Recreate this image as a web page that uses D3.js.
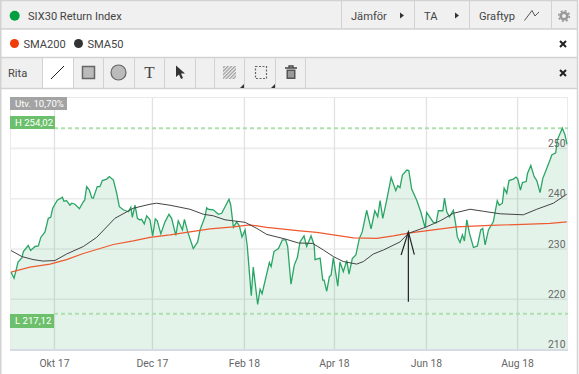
<!DOCTYPE html>
<html>
<head>
<meta charset="utf-8">
<title>SIX30 Return Index</title>
<script src="https://cdn.jsdelivr.net/npm/d3@7"></script>
<style>
  html, body { margin: 0; padding: 0; background: #fff; }
  svg { display: block; font-family: Roboto, sans-serif; }
  .lbl { font-size: 11.1px; fill: #444; }
  .tick-lbl { font-size: 10.4px; fill: #666; }
  .badge-text { font-size: 9.6px; fill: #fff; }
</style>
</head>
<body>
<svg id="chart" width="579" height="374"></svg>
<script>
/* ---------- data ---------- */
// x values are trading days counted from the first point of the window
const closeDays = [0,1.4,3.2,4.9,5.6,7.8,8.9,10.9,12.4,13.5,15.4,16.9,18,18.9,21,23.3,24,25.2,26.7,27.5,29,31,32.8,33.4,34.3,35.5,36.6,37.3,39.1,40.3,41.4,43.4,44.6,46.4,47.9,49.1,50.9,53.2,54.3,55,56.2,57.3,58.2,59.2,60.4,61.5,63,64.2,65.4,66.3,67.9,69.8,71.6,72.8,74.7,75.8,77.7,78.6,80.1,82.6,84.6,85.7,87.9,88.7,89.4,91.7,94,95.5,98.8,99.6,100.8,102.3,103.5,104.7,106.1,107.1,108.9,109.8,111.8,112.9,113.8,117.1,117.9,119.2,121.2,123,124.5,125.4,126.9,128.4,129.8,131,132.8,134,136,137.4,137.8,140.1,141.3,141.9,143.1,144.3,145.1,146.1,148.1,149.1,150.6,152.2,153.2,154.7,156.3,157.9,159.2,161.2,163.2,164.9,166.2,167.3,168.5,170,172.3,174.4,175.3,176.3,177.4,179.4,180.3,181.6,183.9,185.7,187.7,188.4,191.4,192.7,193.7,195.7,196.5,197.5,198.7,200.5,201.6,202.3,203.5,204.6,205.5,206.6,207.8,209.6,211.4,212.9,213.8,214.9,216.4,218.6,220.4,221.3,222.7,223.5,224.7,225.7,227.7,228.9,229.7,230.9,231.8,233.5,234.1,235.6,237.1,238.3,239.8,241,244.3,245.1,246.9,247.6,249.9,251.1,252];
const closeValues = [225.4,224.2,227.4,228.2,229.5,230.7,229.7,230.5,230.6,232.3,233.4,236.1,236.3,238.1,239.7,240.3,239.5,239.6,238.7,239.1,238.9,238,239.4,239.7,242.4,241.7,240.2,240.1,242.4,242.4,243.6,243.9,244.4,243.7,241.1,238.4,237.8,237.4,238.3,236.3,238.7,236.1,235.8,235.9,235,236.6,235.8,232.6,236,235.6,233,235.4,236.9,236.1,232.7,235.6,233.8,235.9,233.4,230.1,231.4,233.8,236.4,238.2,237.9,237.8,236.9,237.1,239.9,238.7,234.3,235.4,234.6,232.4,233.8,230.5,220.7,226.4,219,222,221.1,227.3,226.5,229.5,230.1,231.8,231.8,230.5,223,226.8,228.3,231.4,232.6,230.5,232.6,230.8,227.9,228.2,223.8,223.8,221.6,224.5,224.8,228.3,222.6,227.4,225.5,227.7,225,228.1,228.8,232.1,233.4,237.7,234,237.6,236.4,239.6,236.1,239.1,244.2,241.6,242.6,242.2,244.7,245.7,245.6,241.9,239.7,237.4,234.2,237.3,235.3,235.2,237.6,237.6,240.1,237.4,236.4,237.7,234.8,232.4,231.3,232.8,231.6,235.8,233.1,230.3,230.6,233.8,234.1,230.8,233.8,235.4,239.6,238.7,239.1,242.1,241.1,243.6,243.9,244.3,243.9,241.7,243.2,243.4,245,246.6,244.4,243.6,241.2,244,247.7,248.7,249.1,251.7,254,252.7,250.8];

const sma50Days = [0,4.9,10,14.5,19.9,25.2,32.8,38.8,47.1,55.4,63,66,72.1,81.1,87.2,91.7,97,100.8,106.1,111.4,115.9,124.2,130.2,136.8,141.6,146.1,150.6,156.7,159.7,164.2,168.8,176.3,180.1,187.7,191.4,194.5,200.5,208.1,214.1,221.7,232.2,238.3,245.8,251.9];
const sma50Values = [229.7,228.5,227.9,227.6,227.7,229,230.5,232.3,236.1,238.1,238.9,239.1,238.7,237.9,236.9,236.6,235.8,235.6,235.3,234.1,232.9,232,231.2,231.1,229.8,228.5,227.5,227,227.5,229,229.8,231.4,233.1,234.3,235,235.6,237.1,237.9,237.5,237,236.8,237.9,239.1,240.9];

const sma200Days = [0,8.6,17.7,25.2,32.8,46.4,55.4,63,72.1,81.1,90.2,100.8,108.3,115.9,131,138.6,146.1,155.2,165.8,173.3,180.9,191.4,202,217.1,232.2,244.3,251.9];
const sma200Values = [225.4,226.4,227,227.9,229.1,230.9,231.6,232.3,232.8,233.4,234,234.4,234.8,234.3,233.6,233.3,232.8,232.2,232.1,232.6,233.2,233.8,234.4,234.7,234.9,235.1,235.4];

const xTickDays = [19.7,64.1,105.8,146.6,188.3,229.6];
const xTickLabels = ["Okt 17","Dec 17","Feb 18","Apr 18","Jun 18","Aug 18"];
const yTicks = [250,240,230,220,210];
const yGrid = [250,240,230,220];

const highValue = 254.02, lowValue = 217.12;
const highLabel = "H 254,02", lowLabel = "L 217,12", utvLabel = "Utv. 10,70%";

// the hand drawn arrow: shaft then the two barbs, [day, value]
const arrowShaft = [[180.1,219.5],[180.1,233.4]];
const arrowBarbs = [[176.8,228.8],[180.1,233.4],[182.8,228.9]];

/* ---------- scales ---------- */
const svg = d3.select("#chart");
const xScale = d3.scaleLinear().domain([0, 252]).range([11, 567]);
const yScale = d3.scaleLinear().domain([250, 210]).range([148.4, 349.6]);

const closeData = closeDays.map((d, i) => [d, closeValues[i]]);
const sma50Data = sma50Days.map((d, i) => [d, sma50Values[i]]);
const sma200Data = sma200Days.map((d, i) => [d, sma200Values[i]]);

const lineGen = d3.line().x(d => xScale(d[0])).y(d => yScale(d[1]));
const areaGen = d3.area().x(d => xScale(d[0])).y1(d => yScale(d[1])).y0(350);

/* ---------- page chrome ---------- */
const chrome = svg.append("g");
const rows = [[0, 29, "#f0f0f0"], [58, 30, "#f0f0f0"]];
chrome.selectAll(".row").data(rows).join("rect").attr("class", "row")
  .attr("x", 0).attr("y", d => d[0]).attr("width", 578).attr("height", d => d[1]).attr("fill", d => d[2]);
chrome.append("rect").attr("x", 43).attr("y", 58).attr("width", 30).attr("height", 30).attr("fill", "#fff");

const hLines = [0.5, 29, 57.5, 88.5];
chrome.selectAll(".hl").data(hLines).join("line").attr("class", "hl")
  .attr("x1", 0).attr("x2", 578).attr("y1", d => d).attr("y2", d => d)
  .attr("stroke", "#d2d2d2").attr("stroke-width", 1.5);
chrome.append("line").attr("x1", 0.5).attr("x2", 0.5).attr("y1", 0).attr("y2", 374).attr("stroke", "#d2d2d2").attr("stroke-width", 2);
chrome.append("line").attr("x1", 577.5).attr("x2", 577.5).attr("y1", 0).attr("y2", 374).attr("stroke", "#d2d2d2").attr("stroke-width", 1.5);

const headDividers = [341.5, 414.5, 469.5, 551.5];
chrome.selectAll(".hd").data(headDividers).join("line").attr("class", "hd")
  .attr("x1", d => d).attr("x2", d => d).attr("y1", 1).attr("y2", 29).attr("stroke", "#d2d2d2");
const toolDividers = [42.5, 73.5, 103.5, 134.5, 164.5, 195.5, 214.5, 244.5, 275.5, 305.5];
chrome.selectAll(".td").data(toolDividers).join("line").attr("class", "td")
  .attr("x1", d => d).attr("x2", d => d).attr("y1", 58).attr("y2", 88).attr("stroke", "#d2d2d2");

// header text
const texts = [
  ["SIX30 Return Index", 28, 19.5], ["SMA200", 23.5, 48], ["SMA50", 87.5, 48], ["Rita", 8, 76.5],
  ["Jämför", 351, 19.5], ["TA", 424, 19.5], ["Graftyp", 479, 19.5]
];
chrome.selectAll(".lbl").data(texts).join("text").attr("class", "lbl")
  .attr("x", d => d[1]).attr("y", d => d[2]).text(d => d[0]);

const dots = [[14.7, 15.7, 5, "#00a042"], [14.5, 43.5, 4.5, "#f03c0a"], [78.5, 43.5, 4.5, "#333"]];
chrome.selectAll(".dot").data(dots).join("circle").attr("class", "dot")
  .attr("cx", d => d[0]).attr("cy", d => d[1]).attr("r", d => d[2]).attr("fill", d => d[3]);

// small play arrows in the header
chrome.selectAll(".play").data([400, 455]).join("path").attr("class", "play")
  .attr("d", d => `M${d},12.5L${d + 4},15.5L${d},18.5Z`).attr("fill", "#333");

// graph type glyph
chrome.append("path").attr("d", "M524.5,20.5L532,10.5L535,16L539,12").attr("fill", "none").attr("stroke", "#555");

// gear
chrome.append("circle").attr("cx", 564).attr("cy", 16).attr("r", 3.3).attr("fill", "none").attr("stroke", "#999").attr("stroke-width", 2.6);
chrome.append("circle").attr("cx", 564).attr("cy", 16).attr("r", 5.3).attr("fill", "none").attr("stroke", "#999")
  .attr("stroke-width", 1.6).attr("stroke-dasharray", "2 2.16");

// close crosses
chrome.selectAll(".close").data([44, 73]).join("path").attr("class", "close")
  .attr("d", d => `M560,${d - 3}L566,${d + 3}M566,${d - 3}L560,${d + 3}`)
  .attr("stroke", "#222").attr("stroke-width", 2).attr("fill", "none");

/* ---------- drawing tools ---------- */
const tools = svg.append("g");
tools.append("line").attr("x1", 51).attr("y1", 79).attr("x2", 64).attr("y2", 66).attr("stroke", "#222");
tools.append("rect").attr("x", 82.5).attr("y", 66.5).attr("width", 12).attr("height", 12)
  .attr("fill", "#bbb").attr("stroke", "#666").attr("stroke-width", 1.5);
tools.append("circle").attr("cx", 118.5).attr("cy", 72.5).attr("r", 7.5)
  .attr("fill", "#bbb").attr("stroke", "#666").attr("stroke-width", 1.2);
tools.append("text").attr("x", 149.5).attr("y", 78).attr("text-anchor", "middle")
  .attr("font-family", "'Liberation Serif', serif").attr("font-size", 17).attr("fill", "#444").text("T");
tools.append("path").attr("d", "M176,65.5L176,77L179,74.5L181,79L183,78L181,73.5L185,73.5Z").attr("fill", "#333");

const hatch = svg.append("defs").append("pattern").attr("id", "hatch")
  .attr("width", 2.5).attr("height", 2.5).attr("patternUnits", "userSpaceOnUse")
  .attr("patternTransform", "rotate(-45)");
hatch.append("rect").attr("width", 2.5).attr("height", 1.2).attr("fill", "#999");
tools.append("rect").attr("x", 223).attr("y", 66).attr("width", 13).attr("height", 13).attr("fill", "url(#hatch)");
tools.append("rect").attr("x", 255.5).attr("y", 66.5).attr("width", 11).attr("height", 12).attr("fill", "none")
  .attr("stroke", "#666").attr("stroke-width", 1.2).attr("stroke-dasharray", "2 1.5");
tools.selectAll(".corner").data([244, 275]).join("path").attr("class", "corner")
  .attr("d", d => `M${d},84L${d},88L${d - 4},88Z`).attr("fill", "#333");
// trash can
tools.append("path").attr("d", "M285,68H297M289,68V66H293V68").attr("stroke", "#444").attr("stroke-width", 1.3).attr("fill", "none");
tools.append("path").attr("d", "M286.5,69.5H295.5V79H286.5Z").attr("fill", "#555");
tools.append("path").attr("d", "M289,71V77.5M291,71V77.5M293,71V77.5").attr("stroke", "#eee").attr("stroke-width", 0.9);

/* ---------- plot ---------- */
const plot = svg.append("g");
plot.append("rect").attr("x", 10.5).attr("y", 97.5).attr("width", 557).attr("height", 252.5)
  .attr("fill", "#fff").attr("stroke", "#eaeaea");

plot.selectAll(".ygrid").data(yGrid).join("line").attr("class", "ygrid")
  .attr("x1", 10).attr("x2", 568).attr("y1", d => yScale(d)).attr("y2", d => yScale(d))
  .attr("stroke", "#ececec").attr("stroke-width", 1.6);
plot.selectAll(".xgrid").data(xTickDays).join("line").attr("class", "xgrid")
  .attr("x1", d => xScale(d)).attr("x2", d => xScale(d)).attr("y1", 98).attr("y2", 350)
  .attr("stroke", "#e2e2e2").attr("stroke-width", 1.3);

plot.append("path").datum(closeData).attr("d", areaGen).attr("fill", "#189a50").attr("fill-opacity", 0.12);
plot.append("line").attr("x1", 10).attr("x2", 568).attr("y1", 350).attr("y2", 350).attr("stroke", "#d6dce4").attr("stroke-width", 2);

// high / low guides
plot.selectAll(".guide").data([highValue, lowValue]).join("line").attr("class", "guide")
  .attr("x1", 54).attr("x2", 568).attr("y1", d => yScale(d)).attr("y2", d => yScale(d))
  .attr("stroke", "#aee0ae").attr("stroke-width", 2).attr("stroke-dasharray", "4 3");

plot.append("path").datum(closeData).attr("d", lineGen).attr("fill", "none").attr("stroke", "#2aa565").attr("stroke-width", 1.3);
plot.append("path").datum(sma200Data).attr("d", lineGen).attr("fill", "none").attr("stroke", "#ee5a30").attr("stroke-width", 1.2);
plot.append("path").datum(sma50Data).attr("d", lineGen).attr("fill", "none").attr("stroke", "#444").attr("stroke-width", 1);

// hand drawn arrow
plot.append("path").datum(arrowShaft).attr("d", lineGen).attr("fill", "none").attr("stroke", "#222").attr("stroke-width", 1.2);
plot.append("path").datum(arrowBarbs).attr("d", lineGen).attr("fill", "none").attr("stroke", "#222").attr("stroke-width", 1.2);

// axis labels
plot.selectAll(".ytxt").data(yTicks).join("text").attr("class", "tick-lbl ytxt")
  .attr("x", 565.5).attr("y", d => yScale(d) - 1.5).attr("text-anchor", "end").text(d => d);
plot.selectAll(".xtxt").data(xTickDays).join("text").attr("class", "tick-lbl xtxt")
  .attr("x", d => xScale(d)).attr("y", 366.5).attr("text-anchor", "middle").text((d, i) => xTickLabels[i]);

// badges
const badges = [
  [utvLabel, 10, 97, 57, 13, "#a3a3a3"],
  [highLabel, 10, 116, 45, 13, "#6cc06c"],
  [lowLabel, 10, 314, 44, 14, "#6cc06c"]
];
const badge = plot.selectAll(".badge").data(badges).join("g").attr("class", "badge");
badge.append("rect").attr("x", d => d[1]).attr("y", d => d[2]).attr("width", d => d[3]).attr("height", d => d[4]).attr("fill", d => d[5]);
badge.append("text").attr("class", "badge-text").attr("x", d => d[1] + 5).attr("y", d => d[2] + 10.2).text(d => d[0]);
</script>
</body>
</html>
